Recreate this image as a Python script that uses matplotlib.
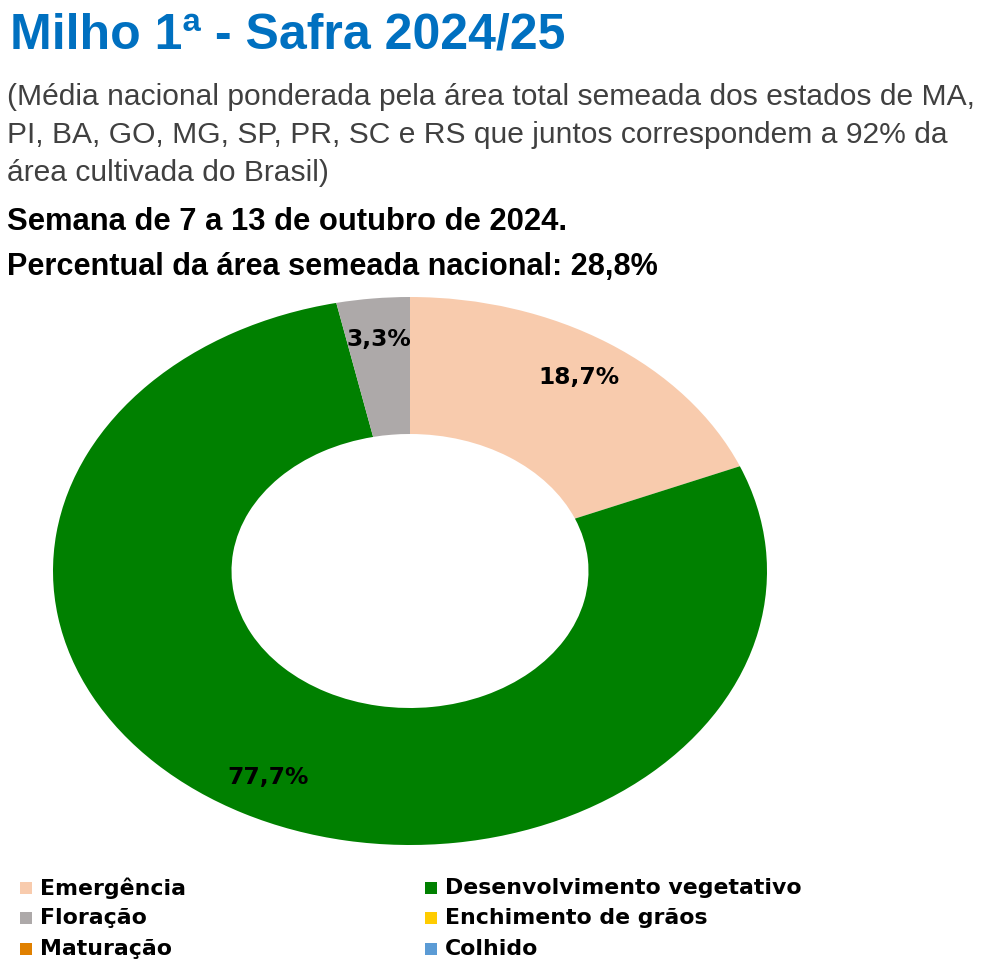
import matplotlib.pyplot as plt
from matplotlib.patches import Rectangle

# dados
estadios = ["Emergência", "Desenvolvimento vegetativo", "Floração",
            "Enchimento de grãos", "Maturação", "Colhido"]
percentuais = [18.7, 77.7, 3.3, 0.0, 0.0, 0.0]
cores = ["#F8CBAD", "#008000", "#ADA9A9", "#FFCC00", "#E08000", "#5B9BD5"]

titulo = "Milho 1ª - Safra 2024/25"
subtitulo = ["(Média nacional ponderada pela área total semeada dos estados de MA,",
             "PI, BA, GO, MG, SP, PR, SC e RS que juntos correspondem a 92% da",
             "área cultivada do Brasil)"]
semana = "Semana de 7 a 13 de outubro de 2024."
area_semeada = "Percentual da área semeada nacional: 28,8%"

W, H = 984, 966
fig = plt.figure(figsize=(W / 100, H / 100), dpi=100)


def fy(px):
    return 1 - px / H


fig.text(10 / W, fy(35), titulo, fontsize=36, fontweight="bold",
         color="#0070C0", family="Liberation Sans", va="center")
for i, linha in enumerate(subtitulo):
    fig.text(7 / W, fy(97 + 38 * i), linha, fontsize=21.6, color="#404040",
             family="Liberation Sans", va="center")
fig.text(7 / W, fy(222), semana, fontsize=22.3, fontweight="bold",
         color="black", family="Liberation Sans", va="center")
fig.text(7 / W, fy(267), area_semeada, fontsize=22.1, fontweight="bold",
         color="black", family="Liberation Sans", va="center")

# rosca (eliptica como no original)
ax = fig.add_axes([53 / W, 121 / H, 714 / W, 548 / H])
wedges, textos, pcts = ax.pie(percentuais, colors=cores, startangle=90,
                              counterclock=False, autopct="%1.1f",
                              pctdistance=0.85,
                              wedgeprops=dict(width=0.5, linewidth=0))
for t, v in zip(pcts, percentuais):
    t.set_text(f"{v:.1f}%".replace(".", ",") if v > 0 else "")
    t.set_fontsize(16.8)
    t.set_fontweight("bold")
    t.set_family("DejaVu Sans")
ax.set_aspect("auto")
ax.set_xlim(-1, 1)
ax.set_ylim(-1, 1)
ax.axis("off")

# legenda
linhas_y = [888, 918, 949]
col_x = [20, 425]
for i, (nome, cor) in enumerate(zip(estadios, cores)):
    x = col_x[i % 2]
    y = linhas_y[i // 2]
    fig.patches.append(Rectangle((x / W, fy(y + 6)), 12 / W, 12 / H,
                                 transform=fig.transFigure, color=cor,
                                 linewidth=0))
    fig.text((x + 20) / W, fy(y), nome, fontsize=15.8, fontweight="bold",
             color="black", family="DejaVu Sans", va="center")

fig.savefig("out.png", dpi=100)
